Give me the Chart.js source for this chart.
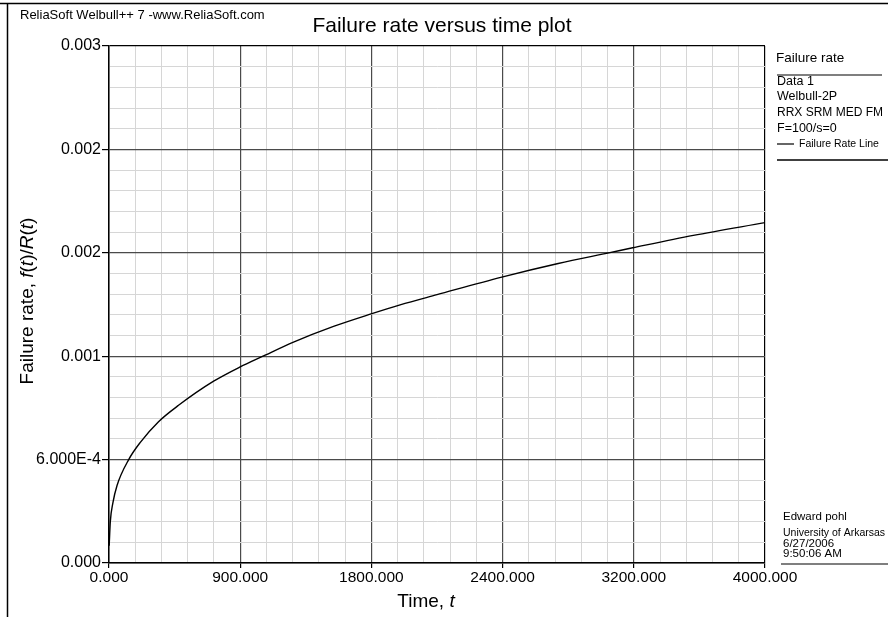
<!DOCTYPE html>
<html>
<head>
<meta charset="utf-8">
<script src="https://cdn.jsdelivr.net/npm/chart.js@4/dist/chart.umd.min.js"></script>
<style>
  html, body { margin: 0; padding: 0; background: #fff; }
</style>
</head>
<body>
<canvas id="rateChart" width="888" height="617"></canvas>
<script>
// Werte (Zeit t und Ausfallrate f(t)/R(t))
const timeValues = [1, 8, 24, 49, 120, 191, 302, 424, 638, 800, 932, 1125, 1369, 1603, 1775, 2000, 2395, 2739, 3054, 3193, 3563, 4000];
const failureRates = [0.00010, 0.00024, 0.00035, 0.00045, 0.000600, 0.000700, 0.000820, 0.000915, 0.001055, 0.001138, 0.001197, 0.001282, 0.001373, 0.001447, 0.001498, 0.001557, 0.001659, 0.001738, 0.001801, 0.001829, 0.001901, 0.001975];

// Beschriftungen der Hauptachsen, so wie sie im Original stehen
const xTickLabels = ['0.000', '900.000', '1800.000', '2400.000', '3200.000', '4000.000'];
const yTickLabels = ['0.000', '6.000E-4', '0.001', '0.002', '0.002', '0.003'];

const legendLines = ['Data 1', 'Welbull-2P', 'RRX SRM MED FM', 'F=100/s=0'];
const infoLines = ['Edward pohl', 'University of Arkarsas', '6/27/2006', '9:50:06 AM'];

const FONT = '"Liberation Sans", Arial, Helvetica, sans-serif';

// Hauptlinien jede 5. Teilung, dazwischen helle Nebenlinien
function gridColor(c) {
    if (c.index === 25) return '#000';
    return c.index % 5 === 0 ? '#4a4a4a' : '#d6d6d6';
}
function tickColor(c) {
    return c.index % 5 === 0 ? '#000' : 'rgba(0,0,0,0)';
}

// Text mit gemischten Schriftschnitten (kursiv / normal) zentriert zeichnen
function drawRuns(ctx, runs, size, cx, cy) {
    ctx.textAlign = 'left';
    let total = 0;
    runs.forEach(r => {
        ctx.font = (r[1] ? 'italic ' : '') + size + 'px ' + FONT;
        total += ctx.measureText(r[0]).width;
    });
    let x = cx - total / 2;
    runs.forEach(r => {
        ctx.font = (r[1] ? 'italic ' : '') + size + 'px ' + FONT;
        ctx.fillText(r[0], x, cy);
        x += ctx.measureText(r[0]).width;
    });
}

const textPlugin = {
    id: 'textPlugin',
    afterDraw(chart) {
        const ctx = chart.ctx;
        ctx.save();
        ctx.fillStyle = '#000';
        ctx.strokeStyle = '#000';
        ctx.textBaseline = 'middle';
        ctx.textAlign = 'left';

        // Rahmen oben und links
        ctx.lineWidth = 1.5;
        ctx.beginPath();
        ctx.moveTo(0, 3.5); ctx.lineTo(888, 3.5);
        ctx.moveTo(7.5, 3.5); ctx.lineTo(7.5, 617);
        ctx.stroke();

        // Kopfzeile und Titel
        ctx.font = '13px ' + FONT;
        ctx.fillText('ReliaSoft Welbull++ 7 -www.ReliaSoft.com', 20, 15);
        ctx.font = '21px ' + FONT;
        ctx.textAlign = 'center';
        ctx.fillText('Failure rate versus time plot', 442, 26);

        // Achsentitel
        drawRuns(ctx, [['Time, ', false], ['t', true]], 19, 426, 602);
        ctx.save();
        ctx.translate(28, 301);
        ctx.rotate(-Math.PI / 2);
        drawRuns(ctx, [['Failure rate, ', false], ['f', true], ['(', false], ['t', true], [')/', false], ['R', true], ['(', false], ['t', true], [')', false]], 19, 0, 0);
        ctx.restore();

        // Legende rechts
        ctx.textAlign = 'left';
        ctx.font = '13.5px ' + FONT;
        ctx.fillText('Failure rate', 776, 58);
        ctx.lineWidth = 1.2;
        ctx.beginPath();
        ctx.moveTo(777, 75); ctx.lineTo(882, 75);
        ctx.stroke();
        ctx.font = '12.5px ' + FONT;
        ctx.fillText(legendLines[0], 777, 81.5);
        ctx.fillText(legendLines[1], 777, 97);
        ctx.font = '12px ' + FONT;
        ctx.fillText(legendLines[2], 777, 112.5);
        ctx.font = '12.5px ' + FONT;
        ctx.fillText(legendLines[3], 777, 128.5);
        ctx.beginPath();
        ctx.moveTo(777, 144); ctx.lineTo(794, 144);
        ctx.stroke();
        ctx.font = '10.5px ' + FONT;
        ctx.fillText('Failure Rate Line', 799, 144);
        ctx.lineWidth = 1.5;
        ctx.beginPath();
        ctx.moveTo(777, 160); ctx.lineTo(888, 160);
        ctx.stroke();

        // Angaben unten rechts
        ctx.font = '11.5px ' + FONT;
        ctx.fillText(infoLines[0], 783, 517);
        ctx.font = '10.5px ' + FONT;
        ctx.fillText(infoLines[1], 783, 533);
        ctx.font = '11.5px ' + FONT;
        ctx.fillText(infoLines[2], 783, 543.5);
        ctx.fillText(infoLines[3], 783, 554);
        ctx.lineWidth = 1.2;
        ctx.beginPath();
        ctx.moveTo(781, 564); ctx.lineTo(888, 564);
        ctx.stroke();
        ctx.restore();
    }
};

const ctx = document.getElementById('rateChart').getContext('2d');

const rateChart = new Chart(ctx, {
    type: 'line',
    data: {
        datasets: [{
            label: 'Failure Rate Line',
            data: timeValues.map((t, i) => ({ x: t, y: failureRates[i] })),
            borderColor: '#000',
            borderWidth: 1.4,
            pointRadius: 0,
            fill: false,
            cubicInterpolationMode: 'monotone'
        }]
    },
    options: {
        responsive: false,
        animation: false,
        layout: { padding: { top: 46, right: 123, left: 0, bottom: 0 } },
        plugins: {
            legend: { display: false },
            tooltip: { enabled: false }
        },
        scales: {
            x: {
                type: 'linear',
                min: 0,
                max: 4000,
                afterBuildTicks: s => { s.ticks = Array.from({ length: 26 }, (_, i) => ({ value: i * 160 })); },
                afterFit: s => { s.height = 54; },
                grid: { color: gridColor, tickColor: tickColor, tickLength: 5, lineWidth: c => c.index % 5 === 0 ? 1.2 : 1 },
                border: { color: '#000', width: 1.5 },
                ticks: {
                    autoSkip: false,
                    maxRotation: 0,
                    padding: 0,
                    color: '#000',
                    font: { family: FONT, size: 15.5 },
                    callback: (v, i) => i % 5 === 0 ? xTickLabels[i / 5] : ''
                }
            },
            y: {
                type: 'linear',
                min: 0,
                max: 0.003,
                afterBuildTicks: s => { s.ticks = Array.from({ length: 26 }, (_, i) => ({ value: i * 0.00012 })); },
                afterFit: s => { s.width = 109; },
                grid: { color: gridColor, tickColor: tickColor, tickLength: 7, lineWidth: c => c.index % 5 === 0 ? 1.2 : 1 },
                border: { color: '#000', width: 1.5 },
                ticks: {
                    autoSkip: false,
                    padding: 1,
                    color: '#000',
                    font: { family: FONT, size: 16 },
                    callback: (v, i) => i % 5 === 0 ? yTickLabels[i / 5] : ''
                }
            }
        }
    },
    plugins: [textPlugin]
});
</script>
</body>
</html>
